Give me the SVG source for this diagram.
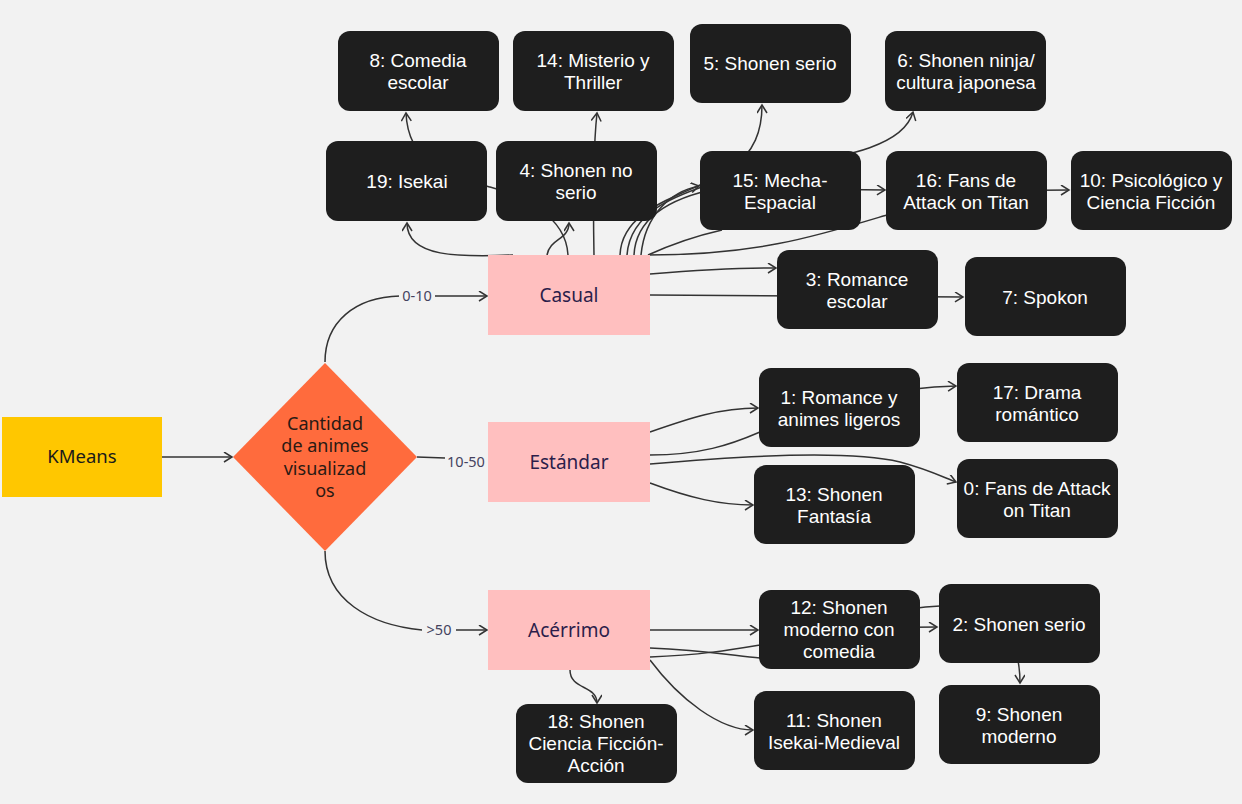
<svg xmlns="http://www.w3.org/2000/svg" width="1242" height="804" viewBox="0 0 1242 804">
<defs>
<marker id="arr" markerUnits="userSpaceOnUse" markerWidth="12" markerHeight="12" refX="9" refY="5" orient="auto">
<path d="M1,0 L9,5 L1,10" fill="none" stroke="#333" stroke-width="1.5"/>
</marker>
<style>
.c{fill:none;stroke:#333;stroke-width:1.5}
.a{marker-end:url(#arr)}
.n rect{fill:#1e1e1e}
.n text{fill:#fff;font-size:19px;text-anchor:middle}
.p rect{fill:#ffbfbf}
.p text{fill:#2b1d4a;font-size:19px;text-anchor:middle}
.lbl{fill:#44425e;font-size:14.5px;text-anchor:middle}
</style>
</defs>
<rect width="1242" height="804" fill="#f2f2f2"/>
<g id="connectors">
<path class="c a" d="M162,457 L232,457"/>
<path class="c a" d="M325,362 C325,322 355,297 400,296 L487,296"/>
<path class="c" d="M417,457 L445,458"/>
<path class="c a" d="M325,551 C325,600 370,625 422,630 L487,630"/>
<path class="c a" d="M513,255 C460,257 407,258 407,223"/>
<path class="c a" d="M568,255 C566,215 520,195 490,187 C450,176 408,165 406,113"/>
<path class="c a" d="M547,255 C550,238 569,240 569,223"/>
<path class="c a" d="M594,255 C593,200 593,150 597,113"/>
<path class="c a" d="M620,255 C622,205 690,195 730,170 C755,152 762,130 762,105"/>
<path class="c a" d="M627,255 C630,212 675,195 720,181 C790,160 900,160 913,112"/>
<path class="c a" d="M634,255 C636,214 678,196 720,188 L885,190"/>
<path class="c a" d="M641,255 C645,215 670,192 699,186"/>
<path class="c" d="M648,255 C670,245 700,235 722,230"/>
<path class="c a" d="M648,255 C760,255 820,235 890,214 C950,195 1000,190 1069,190"/>
<path class="c a" d="M650,274 C700,270 740,268 776,268"/>
<path class="c a" d="M650,295 L963,297"/>
<path class="c a" d="M650,432 C690,418 720,408 758,408"/>
<path class="c a" d="M650,455 C700,455 730,445 760,432 C840,400 900,387 956,386"/>
<path class="c a" d="M650,464 C750,455 850,450 900,462 C930,470 945,478 956,482"/>
<path class="c a" d="M650,483 C690,498 720,505 753,505"/>
<path class="c a" d="M650,630 L758,630"/>
<path class="c a" d="M650,657 C700,655 730,650 760,645 C830,630 880,627 937,627"/>
<path class="c a" d="M650,648 C700,650 730,655 760,658 C830,640 870,608 940,606 C1000,604 1020,640 1020,683"/>
<path class="c a" d="M650,660 C680,700 720,730 753,730"/>
<path class="c a" d="M570,670 C570,690 597,685 597,703"/>
<g font-family="Noto Sans, Open Sans, sans-serif">
<rect x="399" y="287" width="36" height="18" fill="#f2f2f2"/>
<text class="lbl" x="417" y="301">0-10</text>
<text class="lbl" x="466" y="467">10-50</text>
<rect x="422" y="621" width="34" height="18" fill="#f2f2f2"/>
<text class="lbl" x="439" y="635">&gt;50</text>
</g>
</g>
<g id="kmeans"><rect x="2" y="417" width="160" height="80" fill="#ffc700"/><text x="82" y="463" font-family="Noto Sans, Open Sans, sans-serif" font-size="18.5" fill="#1a1a1a" text-anchor="middle">KMeans</text></g>
<g id="decision"><path d="M325,363 L417,457 L325,551 L233,457 Z" fill="#ff6b3d"/>
<text font-family="Noto Sans, Open Sans, sans-serif" font-size="18" fill="#2a1a14" text-anchor="middle"><tspan x="325" y="430">Cantidad</tspan><tspan x="325" y="452">de animes</tspan><tspan x="325" y="475">visualizad</tspan><tspan x="325" y="497">os</tspan></text></g>
<g font-family="Noto Sans, Open Sans, sans-serif">
<g id="casual" class="p"><rect x="488" y="255" width="162" height="80"/><text x="569" y="302">Casual</text></g>
<g id="estandar" class="p"><rect x="488" y="422" width="162" height="80"/><text x="569" y="469">Estándar</text></g>
<g id="acerrimo" class="p"><rect x="488" y="590" width="162" height="80"/><text x="569" y="637">Acérrimo</text></g>
</g>
<g font-family="'Liberation Sans', Arimo, Arial, sans-serif">
<g id="n8" class="n"><rect x="338" y="31" width="161" height="80" rx="12"/><text x="418" y="67">8: Comedia</text><text x="418" y="89">escolar</text></g>
<g id="n14" class="n"><rect x="513" y="31" width="161" height="80" rx="12"/><text x="593" y="67">14: Misterio y</text><text x="593" y="89">Thriller</text></g>
<g id="n5" class="n"><rect x="690" y="24" width="161" height="79" rx="12"/><text x="770" y="70">5: Shonen serio</text></g>
<g id="n6" class="n"><rect x="885" y="31" width="161" height="80" rx="12"/><text x="966" y="67">6: Shonen ninja/</text><text x="966" y="89">cultura japonesa</text></g>
<g id="n19" class="n"><rect x="326" y="141" width="161" height="80" rx="12"/><text x="407" y="188">19: Isekai</text></g>
<g id="n4" class="n"><rect x="496" y="141" width="161" height="80" rx="12"/><text x="576" y="177">4: Shonen no</text><text x="576" y="199">serio</text></g>
<g id="n15" class="n"><rect x="700" y="151" width="161" height="79" rx="12"/><text x="780" y="187">15: Mecha-</text><text x="780" y="209">Espacial</text></g>
<g id="n16" class="n"><rect x="886" y="151" width="161" height="79" rx="12"/><text x="966" y="187">16: Fans de</text><text x="966" y="209">Attack on Titan</text></g>
<g id="n10" class="n"><rect x="1071" y="151" width="161" height="79" rx="12"/><text x="1151" y="187">10: Psicológico y</text><text x="1151" y="209">Ciencia Ficción</text></g>
<g id="n3" class="n"><rect x="777" y="250" width="161" height="79" rx="12"/><text x="857" y="286">3: Romance</text><text x="857" y="308">escolar</text></g>
<g id="n7" class="n"><rect x="965" y="257" width="161" height="79" rx="12"/><text x="1045" y="304">7: Spokon</text></g>
<g id="n1" class="n"><rect x="759" y="368" width="161" height="79" rx="12"/><text x="839" y="404">1: Romance y</text><text x="839" y="426">animes ligeros</text></g>
<g id="n17" class="n"><rect x="957" y="363" width="161" height="79" rx="12"/><text x="1037" y="399">17: Drama</text><text x="1037" y="421">romántico</text></g>
<g id="n13" class="n"><rect x="754" y="465" width="161" height="79" rx="12"/><text x="834" y="501">13: Shonen</text><text x="834" y="523">Fantasía</text></g>
<g id="n0" class="n"><rect x="957" y="459" width="161" height="79" rx="12"/><text x="1037" y="495">0: Fans de Attack</text><text x="1037" y="517">on Titan</text></g>
<g id="n12" class="n"><rect x="759" y="590" width="161" height="79" rx="12"/><text x="839" y="614">12: Shonen</text><text x="839" y="636">moderno con</text><text x="839" y="658">comedia</text></g>
<g id="n2" class="n"><rect x="939" y="584" width="161" height="79" rx="12"/><text x="1019" y="631">2: Shonen serio</text></g>
<g id="n9" class="n"><rect x="939" y="685" width="161" height="79" rx="12"/><text x="1019" y="721">9: Shonen</text><text x="1019" y="743">moderno</text></g>
<g id="n11" class="n"><rect x="754" y="691" width="161" height="79" rx="12"/><text x="834" y="727">11: Shonen</text><text x="834" y="749">Isekai-Medieval</text></g>
<g id="n18" class="n"><rect x="516" y="704" width="161" height="79" rx="12"/><text x="596" y="728">18: Shonen</text><text x="596" y="750">Ciencia Ficción-</text><text x="596" y="772">Acción</text></g>
</g>
</svg>
